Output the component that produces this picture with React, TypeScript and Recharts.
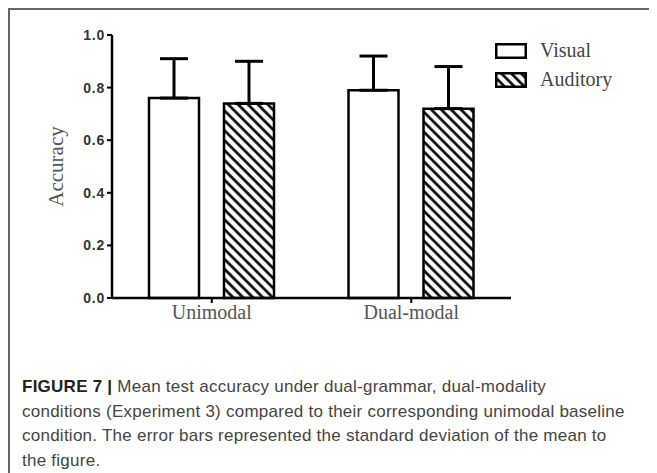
import { BarChart, Bar, XAxis, YAxis, ErrorBar, Legend } from "recharts";

const categories = ["Unimodal", "Dual-modal"];
const visualMeans = [0.76, 0.79];
const visualSD = [0.15, 0.13];
const auditoryMeans = [0.74, 0.72];
const auditorySD = [0.16, 0.16];
const yTicks = [0, 0.2, 0.4, 0.6, 0.8, 1.0];
const legendOrder = ["visual", "auditory"];

const serif = '"Liberation Serif", "DejaVu Serif", serif';
const sans = '"Liberation Sans", Arial, sans-serif';

// only the upper half of the error bar is drawn in the figure
const data = categories.map((name, i) => ({
  name,
  visual: visualMeans[i],
  visualErr: [0, visualSD[i]],
  auditory: auditoryMeans[i],
  auditoryErr: [0, auditorySD[i]],
}));

function LegendContent({ payload }: any) {
  const items = [...(payload || [])].sort(
    (a: any, b: any) => legendOrder.indexOf(a.dataKey) - legendOrder.indexOf(b.dataKey)
  );
  return (
    <div style={{ fontFamily: serif, fontSize: 20, color: "#444" }}>
      {items.map((item: any) => (
        <div key={item.value} style={{ display: "flex", alignItems: "center", height: 29 }}>
          <svg width={32} height={16} style={{ marginRight: 13 }}>
            <rect
              x={1.25}
              y={1.25}
              width={29.5}
              height={13.5}
              fill={item.dataKey === "auditory" ? "url(#hatch)" : "#fff"}
              stroke="#000"
              strokeWidth={2.5}
            />
          </svg>
          <span>{item.value}</span>
        </div>
      ))}
    </div>
  );
}

function YLabel({ viewBox }: any) {
  const x = viewBox.x + 4;
  const y = viewBox.y + viewBox.height / 2;
  return (
    <text
      x={x}
      y={y}
      transform={`rotate(-90, ${x}, ${y})`}
      textAnchor="middle"
      dominantBaseline="central"
      fontFamily={serif}
      fontSize={21}
      fill="#555"
    >
      Accuracy
    </text>
  );
}

export default function App() {
  return (
    <div
      style={{
        position: "relative",
        width: 649,
        height: 465,
        borderTop: "2px solid #666",
        borderLeft: "2px solid #666",
        boxSizing: "border-box",
      }}
    >
      <div style={{ position: "absolute", left: -10, top: -10 }}>
        <BarChart
          width={657}
          height={340}
          data={data}
          margin={{ top: 35, right: 146, bottom: 12, left: 52 }}
          barSize={50}
          barGap={25}
        >
          <defs>
            <pattern
              id="hatch"
              width={7}
              height={7}
              patternUnits="userSpaceOnUse"
              patternTransform="rotate(-45)"
            >
              <rect width={7} height={7} fill="#fff" />
              <line x1={3.5} y1={0} x2={3.5} y2={7} stroke="#000" strokeWidth={2.6} />
            </pattern>
          </defs>
          <XAxis
            dataKey="name"
            height={30}
            axisLine={{ stroke: "#000", strokeWidth: 2.5 }}
            tickLine={{ stroke: "#000", strokeWidth: 2 }}
            tickSize={5}
            tick={{ fontFamily: serif, fontSize: 20, fill: "#555" }}
          />
          <YAxis
            width={60}
            domain={[0, 1]}
            ticks={yTicks}
            interval={0}
            tickFormatter={(v: number) => v.toFixed(1)}
            axisLine={{ stroke: "#000", strokeWidth: 2.5 }}
            tickLine={{ stroke: "#000", strokeWidth: 2 }}
            tickSize={5}
            tick={{ fontFamily: sans, fontSize: 14, fontWeight: 700, fill: "#333", letterSpacing: 0.8 }}
            label={<YLabel />}
          />
          <Legend
            layout="vertical"
            align="center"
            verticalAlign="middle"
            content={<LegendContent />}
            wrapperStyle={{ left: 495, top: 36, width: 150 }}
          />
          <Bar
            dataKey="visual"
            name="Visual"
            fill="#fff"
            stroke="#000"
            strokeWidth={2.5}
            isAnimationActive={false}
          >
            <ErrorBar dataKey="visualErr" width={14} stroke="#000" strokeWidth={3} />
          </Bar>
          <Bar
            dataKey="auditory"
            name="Auditory"
            fill="url(#hatch)"
            stroke="#000"
            strokeWidth={2.5}
            isAnimationActive={false}
          >
            <ErrorBar dataKey="auditoryErr" width={14} stroke="#000" strokeWidth={3} />
          </Bar>
        </BarChart>
      </div>
      <div
        style={{
          position: "absolute",
          left: 12,
          top: 365,
          fontFamily: sans,
          fontSize: 17,
          letterSpacing: 0.25,
          lineHeight: "24.5px",
          color: "#444",
          whiteSpace: "nowrap",
        }}
      >
        <b style={{ color: "#222" }}>FIGURE 7 |</b> Mean test accuracy under dual-grammar, dual-modality
        <br />
        conditions (Experiment 3) compared to their corresponding unimodal baseline
        <br />
        condition. The error bars represented the standard deviation of the mean to
        <br />
        the figure.
      </div>
    </div>
  );
}
